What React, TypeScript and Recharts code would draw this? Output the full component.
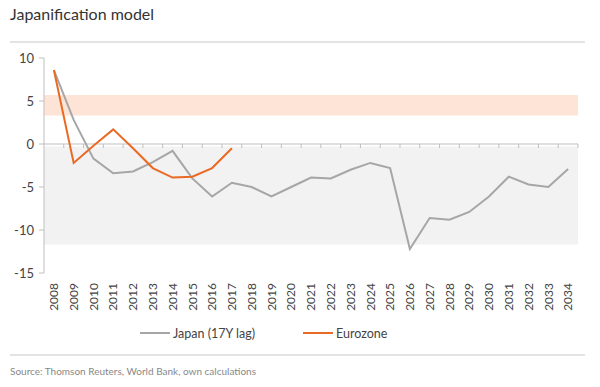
import { LineChart, Line, XAxis, YAxis, ReferenceArea, ReferenceLine, Legend } from 'recharts';

const years = [
  '2008', '2009', '2010', '2011', '2012', '2013', '2014', '2015', '2016',
  '2017', '2018', '2019', '2020', '2021', '2022', '2023', '2024', '2025',
  '2026', '2027', '2028', '2029', '2030', '2031', '2032', '2033', '2034',
];

// Japan shifted by 17 years
const japan = [
  8.6, 2.8, -1.7, -3.4, -3.2, -2.1, -0.8, -4.0, -6.1,
  -4.5, -5.0, -6.1, -5.0, -3.9, -4.0, -3.0, -2.2, -2.8,
  -12.2, -8.6, -8.8, -7.9, -6.1, -3.8, -4.7, -5.0, -2.9,
];

const eurozone = [8.6, -2.2, -0.2, 1.7, -0.5, -2.8, -3.9, -3.8, -2.8, -0.5];

const yTicks = [-15, -10, -5, 0, 5, 10];
const targetBand = [3.3, 5.7];
const lowBand = [-11.7, -0.3];

const data = years.map((year, i) => ({
  year,
  japan: japan[i],
  eurozone: i < eurozone.length ? eurozone[i] : null,
}));

const FONT = 'Lato, sans-serif';
const AXIS = '#bfbfbf';

function YearTick({ x, y, payload }: any) {
  return (
    <text
      x={x}
      y={y}
      transform={`rotate(-90 ${x} ${y})`}
      textAnchor="end"
      dy="0.35em"
      fontSize={12}
      fontFamily={FONT}
      fill="#444"
    >
      {payload.value}
    </text>
  );
}

// zero line with small tick marks between the years
function ZeroAxis(props: any) {
  const { x1, y1, x2 } = props;
  const step = (x2 - x1) / years.length;
  return (
    <g>
      <line x1={x1} y1={y1} x2={x2} y2={y1} stroke={AXIS} strokeWidth={1} />
      {years.map((_, i) => (
        <line key={i} x1={x1 + step * (i + 1)} y1={y1} x2={x1 + step * (i + 1)} y2={y1 + 4} stroke={AXIS} />
      ))}
    </g>
  );
}

function LegendBox() {
  const items = [
    { label: 'Japan (17Y lag)', color: '#a6a6a6' },
    { label: 'Eurozone', color: '#ea6a24' },
  ];
  return (
    <div style={{ display: 'flex', gap: 48, paddingLeft: 140, paddingTop: 6, height: 20, fontFamily: FONT, fontSize: 12.5, color: '#444' }}>
      {items.map((it) => (
        <div key={it.label} style={{ display: 'flex', alignItems: 'center' }}>
          <span style={{ display: 'inline-block', width: 30, height: 2, background: it.color, marginRight: 3 }} />
          <span>{it.label}</span>
        </div>
      ))}
    </div>
  );
}

export default function App() {
  return (
    <div style={{ position: 'fixed', left: 0, top: 0, width: 600, height: 387, background: '#fff', overflow: 'hidden' }}>
      <div style={{ position: 'absolute', left: 10, top: 4, fontFamily: FONT, fontSize: 16, color: '#333' }}>
        Japanification model
      </div>
      <div style={{ position: 'absolute', left: 10, top: 41, width: 575, height: 2, background: '#e3e3e3' }} />
      <LineChart width={600} height={387} data={data} margin={{ top: 58, right: 22, left: 0, bottom: 44 }}>
        <ReferenceArea y1={targetBand[0]} y2={targetBand[1]} fill="#fde4d6" fillOpacity={1} stroke="none" />
        <ReferenceArea y1={lowBand[0]} y2={lowBand[1]} fill="#f2f2f2" fillOpacity={1} stroke="none" />
        <ReferenceLine y={0} shape={<ZeroAxis />} />
        <XAxis
          dataKey="year"
          scale="band"
          interval={0}
          axisLine={false}
          tickLine={false}
          tickSize={0}
          tickMargin={10}
          height={44}
          tick={<YearTick />}
        />
        <YAxis
          domain={[-15, 10]}
          ticks={yTicks}
          width={44}
          axisLine={{ stroke: AXIS }}
          tickLine={{ stroke: AXIS }}
          tickSize={5}
          tickMargin={5}
          tick={{ fontSize: 13, fontFamily: FONT, fill: '#444' }}
        />
        <Legend verticalAlign="bottom" content={<LegendBox />} />
        <Line dataKey="japan" stroke="#a6a6a6" strokeWidth={2} dot={false} isAnimationActive={false} />
        <Line dataKey="eurozone" stroke="#ea6a24" strokeWidth={2} dot={false} isAnimationActive={false} connectNulls={false} />
      </LineChart>
      <div style={{ position: 'absolute', left: 10, top: 354, width: 575, height: 2, background: '#e3e3e3' }} />
      <div style={{ position: 'absolute', left: 10, top: 365, fontFamily: FONT, fontSize: 10, color: '#888' }}>
        Source: Thomson Reuters, World Bank, own calculations
      </div>
    </div>
  );
}
